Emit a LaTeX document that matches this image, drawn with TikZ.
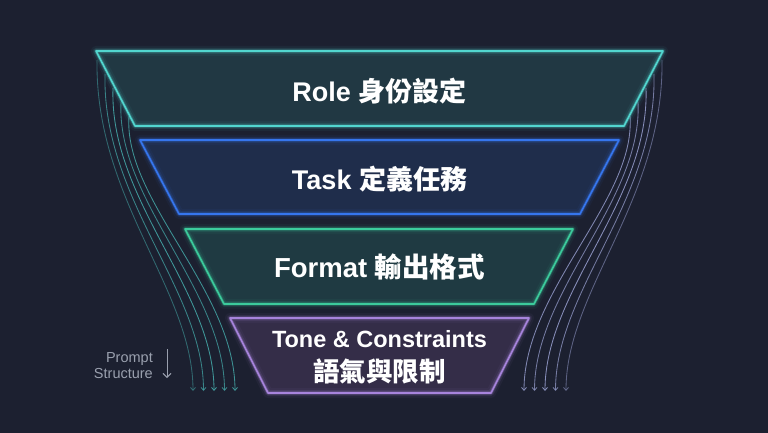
\documentclass[tikz,border=0pt]{standalone}
\usepackage{fontspec}
\setmainfont{Liberation Sans}
\newfontfamily\cjk{Noto Sans CJK TC}
\usetikzlibrary{arrows.meta}
\definecolor{bgc}{HTML}{1C2030}
\definecolor{roleline}{HTML}{52D6CF}
\definecolor{rolefill}{HTML}{213843}
\definecolor{taskline}{HTML}{3676EE}
\definecolor{taskfill}{HTML}{1F2D4B}
\definecolor{fmtline}{HTML}{3CCB9C}
\definecolor{fmtfill}{HTML}{1F3A42}
\definecolor{toneline}{HTML}{A784DC}
\definecolor{tonefill}{HTML}{342D48}
\definecolor{leftflow}{HTML}{44A6A6}
\definecolor{rightflow}{HTML}{939AC9}
\definecolor{labelgrey}{HTML}{9AA0AE}
\tikzset{
  glowwide/.style={draw=#1, line width=10pt, draw opacity=0.05, line join=round},
  glowmid/.style={draw=#1, line width=6pt, draw opacity=0.12, line join=round},
  glownarrow/.style={draw=#1, line width=3.2pt, draw opacity=0.3, line join=round},
  bandedge/.style={draw=#1, line width=1.6pt, line join=round},
  flowline/.style={draw=#1, line width=0.85pt, draw opacity=0.75, -{Straight Barb[length=3pt,width=5pt]}},
  bandtext/.style={text=white, font=\bfseries, anchor=base, inner sep=0pt},
}
\newcommand{\funnelband}[6]{%
  \fill[#5] #1 -- #2 -- #3 -- #4 -- cycle;
  \path[glowwide=#6] #1 -- #2 -- #3 -- #4 -- cycle;
  \path[glowmid=#6] #1 -- #2 -- #3 -- #4 -- cycle;
  \path[glownarrow=#6] #1 -- #2 -- #3 -- #4 -- cycle;
  \path[bandedge=#6] #1 -- #2 -- #3 -- #4 -- cycle;
}
\begin{document}
\begin{tikzpicture}[x=1pt,y=-1pt]
\fill[bgc] (0,0) rectangle (768,433);
\useasboundingbox (0,0) rectangle (768,433);

% flow lines (behind the bands)
\foreach \k/\op in {0/0.55,1/0.75,2/0.9,3/0.75,4/0.85} {
  \pgfmathsetmacro{\xs}{97+8*\k}
  \pgfmathsetmacro{\ys}{60+14*\k}
  \pgfmathsetmacro{\xc}{95+7*\k}
  \pgfmathsetmacro{\xe}{193+10.5*\k}
  \coordinate (ls\k) at (\xs,\ys);
  \coordinate (le\k) at (\xe,391);
  \draw[flowline=leftflow, draw opacity=\op] (ls\k) .. controls (\xc,200) and (\xe,290) .. (le\k);
  \pgfmathsetmacro{\rxs}{759-\xs}
  \pgfmathsetmacro{\rxc}{759-\xc}
  \pgfmathsetmacro{\rxe}{759-\xe}
  \coordinate (rs\k) at (\rxs,\ys);
  \coordinate (re\k) at (\rxe,391);
  \draw[flowline=rightflow, draw opacity=\op] (rs\k) .. controls (\rxc,200) and (\rxe,290) .. (re\k);
}

% bands
\funnelband{(96,51)}{(663,51)}{(624,126)}{(135,126)}{rolefill}{roleline}
\funnelband{(140,140)}{(619,140)}{(580,214)}{(179,214)}{taskfill}{taskline}
\funnelband{(185,229)}{(573,229)}{(534,304)}{(224,304)}{fmtfill}{fmtline}
\funnelband{(230,318)}{(529,318)}{(491,393)}{(268,393)}{tonefill}{toneline}

% texts
\node[bandtext] (role) at (379.5,102) {\fontsize{27}{30}\selectfont Role \cjk 身份設定};
\node[bandtext] (task) at (379.5,189) {\fontsize{27}{30}\selectfont Task \cjk 定義任務};
\node[bandtext] (format) at (379.5,277) {\fontsize{27.5}{30}\selectfont Format \cjk 輸出格式};
\node[bandtext] (tone) at (379.5,347) {\fontsize{23.5}{26}\selectfont Tone \& Constraints};
\node[bandtext] (tonecjk) at (379.5,381) {\fontsize{26.5}{30}\selectfont\cjk 語氣與限制};

% side label
\node[text=labelgrey, anchor=base east, inner sep=0pt, font=\fontsize{14.5}{16}\selectfont] (lab1) at (153,362) {Prompt};
\node[text=labelgrey, anchor=base east, inner sep=0pt, font=\fontsize{14.5}{16}\selectfont] (lab2) at (153,378) {Structure};
\coordinate (arrtop) at (167,349);
\coordinate (arrbot) at (167,378);
\draw[labelgrey, line width=0.9pt, -{Straight Barb[length=4pt,width=8pt]}] (arrtop) -- (arrbot);
\end{tikzpicture}
\end{document}
